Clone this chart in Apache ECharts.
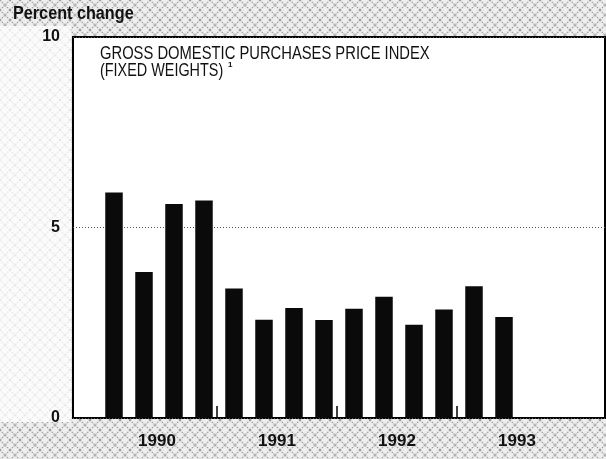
<!DOCTYPE html>
<html>
<head>
<meta charset="utf-8">
<script src="https://cdn.jsdelivr.net/npm/echarts@6/dist/echarts.min.js"></script>
<style>
  html, body { margin: 0; padding: 0; background: #fff; }
  #chart { width: 606px; height: 459px; }
</style>
</head>
<body>
<div id="chart"></div>
<script>
// quarterly data, 1990 Q1 - 1993 Q4 (only through 1993 Q2 reported)
var quarters = [
  '1990Q1', '1990Q2', '1990Q3', '1990Q4',
  '1991Q1', '1991Q2', '1991Q3', '1991Q4',
  '1992Q1', '1992Q2', '1992Q3', '1992Q4',
  '1993Q1', '1993Q2', '1993Q3', '1993Q4'
];
var priceChange = [
  5.92, 3.83, 5.62, 5.71,
  3.40, 2.58, 2.89, 2.57,
  2.87, 3.18, 2.45, 2.85,
  3.46, 2.65, null, null
];
// trailing blank slot keeps the closing band tick off the page
var years = ['1990', '1991', '1992', '1993', ''];
var yTicks = [0, 5, 10];

var sans = '"Liberation Sans", Arial, sans-serif';

// halftone-ish crosshatch for the paper around the plot
function hatch() {
  var c = document.createElement('canvas');
  c.width = 10; c.height = 10;
  var ctx = c.getContext('2d');
  ctx.fillStyle = '#eeeeee';
  ctx.fillRect(0, 0, 10, 10);
  ctx.strokeStyle = '#9a9a9a';
  ctx.lineWidth = 1.1;
  ctx.setLineDash([1.5, 1]);
  ctx.beginPath();
  ctx.moveTo(0, 0); ctx.lineTo(10, 10);
  ctx.moveTo(10, 0); ctx.lineTo(0, 10);
  ctx.stroke();
  return c;
}

var chart = echarts.init(document.getElementById('chart'));

chart.setOption({
  animation: false,
  backgroundColor: { image: hatch(), repeat: 'repeat' },
  graphic: [{
    type: 'rect', silent: true,
    shape: { x: 0, y: 26, width: 71, height: 396 },
    style: { fill: 'rgba(255,255,255,0.75)' }
  }, {
    type: 'text', x: 13, y: 14, scaleX: 0.9,
    style: { text: 'Percent change', font: 'bold 18px ' + sans, fill: '#111', verticalAlign: 'middle' }
  }, {
    type: 'text', x: 100, y: 54.5, scaleX: 0.82, z: 10,
    style: { text: 'GROSS DOMESTIC PURCHASES PRICE INDEX', font: '18px ' + sans, fill: '#111', verticalAlign: 'middle' }
  }, {
    type: 'text', x: 100, y: 71, scaleX: 0.8, z: 10,
    style: { text: '(FIXED WEIGHTS)', font: '18px ' + sans, fill: '#111', verticalAlign: 'middle' }
  }, {
    type: 'text', x: 228, y: 65, z: 10,
    style: { text: '1', font: 'bold 8px ' + sans, fill: '#111', verticalAlign: 'middle' }
  }],
  grid: [{
    left: 73, right: 1, top: 37, bottom: 41, outerBoundsMode: 'none',
    show: true, backgroundColor: '#fff', borderColor: '#000', borderWidth: 2
  }, {
    left: 99, right: 27, top: 37, bottom: 41, outerBoundsMode: 'none'
  }, {
    left: 97, width: 600, top: 37, bottom: 41, outerBoundsMode: 'none'
  }],
  xAxis: [{
    gridIndex: 0, type: 'value', show: false, min: 0, max: 1
  }, {
    gridIndex: 1, type: 'category', data: quarters, show: false
  }, {
    gridIndex: 2, type: 'category', data: years, position: 'bottom',
    axisLine: { show: false },
    axisTick: {
      show: true, inside: true, length: 12,
      lineStyle: { color: '#000', width: 1.5 },
      interval: function (i) { return i > 0 && i < 4; }
    },
    axisLabel: { margin: 15, fontFamily: sans, fontSize: 17, fontWeight: 'bold', color: '#111' }
  }],
  yAxis: [{
    gridIndex: 0, type: 'value', min: 0, max: 10, interval: 5,
    axisLine: { show: false }, axisTick: { show: false },
    axisLabel: {
      margin: 13, fontFamily: sans, fontSize: 16, fontWeight: 'bold', color: '#111',
      formatter: function (v) { return yTicks.indexOf(v) >= 0 ? String(v) : ''; }
    },
    splitLine: { show: true, lineStyle: { color: '#555', width: 1, type: [1, 2] } }
  }, {
    gridIndex: 1, type: 'value', min: 0, max: 10, show: false
  }, {
    gridIndex: 2, type: 'value', min: 0, max: 10, show: false
  }],
  series: [{
    type: 'bar',
    xAxisIndex: 1, yAxisIndex: 1,
    data: priceChange,
    barWidth: 17.5,
    itemStyle: { color: '#0a0a0a' }
  }]
});
</script>
</body>
</html>
